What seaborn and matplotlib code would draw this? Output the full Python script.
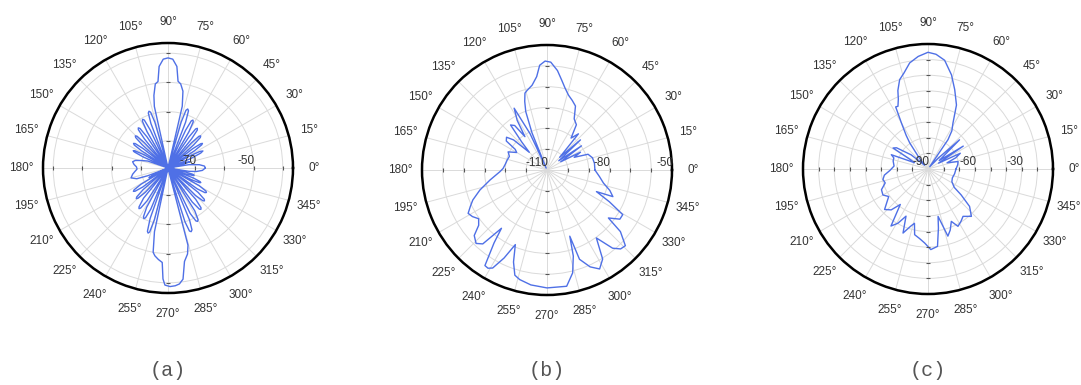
import numpy as np
import matplotlib
matplotlib.use("Agg")
import matplotlib.pyplot as plt
import seaborn as sns

# ---------------- data (angle in degrees, level in dB) ----------------
a_theta = [0, 3, 6, 9, 11, 13.5, 16, 18.5, 20.5, 22.5, 24.5, 26, 27.5, 29, 31,
           33, 34.5, 35.5, 36.5, 38, 40, 42, 43.3, 44.5, 45.7, 47, 49,
           51, 52.3, 53.5, 54.7, 56, 58, 60, 61.3, 62.5, 63.7, 65, 67,
           69, 70.3, 71.5, 72.7, 74, 75.5,
           77, 79, 81.4, 83.4, 85, 87.5, 90, 92.5, 95, 96.6, 98.6, 101, 102.5, 104.5,
           106, 107.3, 108.5, 109.7, 111, 113, 115, 116.3, 117.5, 118.7, 120, 122,
           124, 125.3, 126.5, 127.7, 129, 131, 133, 134.3, 135.5, 136.7, 138, 140,
           142, 143.3, 144.5, 145.7, 147, 149, 151, 152.5, 153.5, 154.5, 156, 158,
           161, 164, 167, 170, 174, 178, 182, 186, 190, 195, 199, 201, 203,
           205, 207, 209, 211, 212.8, 214, 215.2, 217, 219, 221, 222.8, 224, 225.2,
           227, 229, 231, 233.3, 234.5, 235.7, 237.5, 239.5, 241.5, 243.3, 244.5,
           245.7, 247.3, 249, 250.5, 252, 253, 254, 255.3, 256.5,
           258, 260, 261.5, 264, 266.5, 267.4, 268.5, 271, 273.5, 275.6, 277.7, 280,
           282.8, 284.5, 285.5,
           287.5, 288.8, 290, 291.2, 292.5, 294, 296, 297.8, 299, 300.2, 302, 303.5,
           305.5, 307.3, 308.5, 309.7, 311.5, 313, 315, 316.8, 318, 319.2, 321, 322.5,
           324.5, 326.3, 327.5, 328.7, 330.5, 332, 333.5, 335, 336, 337, 338.5, 340,
           341.5, 343.3, 344.5, 345.7, 347, 348.5, 351, 353, 356, 360]
a_db = [-66.5, -66.8, -68.5, -72.0, -79.0, -74.0, -71.5, -74.0, -79.0, -71.0, -67.0,
        -66.0, -67.0, -71.0, -79.0,
        -68.5, -65.3, -64.8, -65.3, -68.5, -79.0, -67.5, -64.1, -63.6, -64.1, -67.5, -79.0,
        -66.5, -62.9, -62.4, -62.9, -66.5, -79.0, -65.0, -61.3, -60.8, -61.3, -65.0, -79.0,
        -62.5, -58.5, -58.0, -58.6, -63.0, -79.0,
        -57.6, -52.5, -50.2, -49.4, -44.4, -42.0, -41.6, -42.0, -44.4, -49.5, -50.2, -54.0,
        -57.7, -79.0,
        -63.0, -59.3, -58.8, -59.3, -63.0, -79.0, -65.0, -61.0, -60.5, -61.0, -65.0, -79.0,
        -66.5, -62.7, -62.2, -62.7, -66.5, -79.0, -67.5, -64.1, -63.6, -64.1, -67.5, -79.0,
        -68.5, -65.3, -64.8, -65.3, -68.5, -79.0, -70.0, -66.5, -66.0, -66.5, -70.0, -79.0,
        -72.0, -70.0, -67.8, -67.0, -67.6, -68.5, -68.7, -67.9, -67.0, -66.2, -68.0, -72.0,
        -79.0,
        -74.0, -72.0, -79.0, -68.5, -65.5, -65.0, -65.5, -68.5, -79.0, -68.0, -64.7, -64.2,
        -64.7, -68.0, -79.0, -66.0, -62.7, -62.2, -62.7, -66.0, -79.0, -64.0, -60.6, -60.1,
        -60.6, -64.0, -79.0, -61.0, -56.5, -56.0, -56.5, -61.0, -79.0,
        -57.0, -50.0, -48.9, -47.8, -46.9, -41.3, -39.2, -38.7, -38.9, -39.4, -40.9, -46.8,
        -49.1, -52.0, -79.0,
        -60.0, -56.5, -56.1, -56.6, -60.0, -79.0, -62.0, -58.8, -58.4, -58.8, -62.0, -79.0,
        -65.0, -61.6, -61.2, -61.6, -65.0, -79.0, -66.0, -62.9, -62.5, -62.9, -66.0, -79.0,
        -67.0, -64.1, -63.7, -64.1, -67.0, -79.0, -70.0, -67.4, -67.0, -67.4, -70.0, -79.0,
        -73.0, -70.4, -70.0, -70.4, -73.0, -79.0, -72.0, -69.5, -67.5, -66.5]

b_theta = [0, 8, 15, 21, 25, 28, 31, 35, 38, 42, 45, 49, 53, 57, 62, 66, 70, 74, 77.6,
           80.7, 84, 88, 91, 94, 96.3, 100, 104, 106, 108, 110, 112, 113.5, 115, 118,
           121, 123.5, 126, 129, 132, 135, 138, 141, 144.5, 147, 150, 155, 160, 166,
           172, 178, 182, 190, 196.6, 202, 205.5, 208.8, 212, 215.5, 219, 222, 226, 229,
           232, 234, 237, 239, 241, 244, 247, 250, 253, 256, 262, 270, 279.6, 284, 287,
           289, 290, 294, 298, 302, 306, 310, 313, 316, 320, 322, 326, 329.5, 333,
           336.4, 338, 342, 347, 352.8, 360]
b_db = [-87.0, -87.0, -87.4, -88.9, -95.6, -91.8, -102.3, -89.8, -102.8, -88.4, -101.4,
        -87.0, -90.8, -84.1, -82.2, -76.4, -74.5, -72.6, -69.7, -66.3, -62.0, -58.2, -57.7,
        -59.6, -64.9, -68.7, -70.6, -71.6, -75.4, -80.2, -90.8, -109.0, -90.8, -76.4,
        -82.2, -90.8, -83.6, -82.2, -91.8, -98.0, -88.4, -85.0, -86.0, -91.8, -93.2, -89.4,
        -90.8, -90.3, -89.8, -88.9, -87.4, -82.2, -76.4, -71.6, -69.2, -66.8, -67.8, -69.7,
        -67.8, -63.0, -61.0, -63.0, -74.5, -66.8, -55.3, -55.0, -56.2, -63.0, -71.1, -63.0,
        -57.2, -55.8, -54.3, -53.4, -53.4, -59.1, -66.8, -76.4, -64.4, -59.1, -56.2, -59.6,
        -69.7, -61.0, -58.2, -57.7, -64.0, -72.6, -67.8, -67.8, -76.4, -84.1, -75.9, -78.3,
        -82.2, -84.6, -87.0]

c_theta = [0, 8, 14, 18, 22, 26, 29, 33, 37, 42.8, 47, 53, 55.7, 58, 61.5, 66, 71.4,
           76, 81.3, 86, 90, 95, 99.8, 104, 107.6, 111, 113, 115.6, 117.5, 120, 123,
           125, 128, 132, 140, 146, 149, 152, 155, 158.7, 162, 167, 175, 182, 188, 193,
           198, 204, 210, 215, 223, 228, 232, 237, 241, 245, 248.7, 253, 256, 258.5,
           263, 267.4, 272, 277, 280, 282, 286.5, 290, 294, 297.6, 302, 306.5, 312.5,
           318, 322, 325, 332, 340, 350, 360]
c_db = [-72.1, -70.8, -70.2, -77.2, -70.8, -67.0, -82.3, -63.1, -81.0, -62.5, -81.0,
        -88.1, -67.3, -61.2, -56.5, -45.2, -36.4, -27.9, -19.6, -16.4, -15.3, -17.7,
        -21.1, -26.6, -30.0, -36.2, -41.4, -45.5, -45.2, -56.0, -64.4, -69.6, -80.4,
        -86.8, -75.9, -65.7, -63.9, -77.2, -80.4, -64.8, -67.0, -67.1, -68.2, -65.7,
        -61.8, -60.4, -61.2, -57.4, -56.7, -59.3, -52.0, -54.8, -61.2, -46.5, -50.3,
        -56.7, -46.0, -51.6, -54.2, -47.1, -45.2, -42.6, -38.4, -40.1, -51.6, -59.0,
        -45.2, -48.4, -53.3, -48.6, -50.3, -52.3, -48.9, -54.2, -63.1, -69.5, -72.7,
        -73.4, -72.7, -72.1]

# axis scales / labels
a_rlim = (-79.3, -36.5)
a_rings = [-70, -60, -50, -40]
a_rlabels = [-70, -50]
b_rlim = (-110, -50)
b_rings = [-100, -90, -80, -70, -60]
b_rlabels = [-110, -80, -50]
c_rlim = (-90, -10)
c_rings = [-80, -70, -60, -50, -40, -30, -20]
c_rlabels = [-90, -60, -30]
angle_ticks = list(range(0, 360, 15))
panel_tags = ["(a)", "(b)", "(c)"]

# ---------------- style ----------------
sns.set_theme(style="white")
plt.rcParams["font.family"] = ["Liberation Sans", "DejaVu Sans"]
LINE = "#4f70e6"
GRID = "#dadada"
TXT = "#333333"

W, H = 1081, 385
R = 125
fig = plt.figure(figsize=(W / 100, H / 100), dpi=100)
fig.patch.set_facecolor("white")

panels = [
    (a_theta, a_db, a_rlim, a_rings, a_rlabels, (168, 168)),
    (b_theta, b_db, b_rlim, b_rings, b_rlabels, (547, 170)),
    (c_theta, c_db, c_rlim, c_rings, c_rlabels, (928, 169)),
]

for (theta, db, rlim, rings, rlabels, (cx, cy)), tag in zip(panels, panel_tags):
    ax = fig.add_axes([(cx - R) / W, (H - cy - R) / H, 2 * R / W, 2 * R / H],
                      projection="polar")
    ax.set_facecolor("white")
    sns.lineplot(x=np.deg2rad(theta), y=db, sort=False, estimator=None, ax=ax,
                 color=LINE, linewidth=1.0)
    ax.set_xlabel("")
    ax.set_ylabel("")
    ax.set_ylim(*rlim)
    ax.set_yticks(rings)
    ax.set_yticklabels([])
    ax.set_xticks(np.deg2rad(angle_ticks))
    ax.set_xticklabels([])
    ax.tick_params(axis="both", length=0, pad=0)
    ax.grid(True, color=GRID, linewidth=0.7)
    ax.set_axisbelow(True)
    ax.spines["polar"].set_color("black")
    ax.spines["polar"].set_linewidth(1.8)

    # small tick marks along the main axes at each ring
    for ang, mk in [(0, "|"), (180, "|"), (90, "_"), (270, "_")]:
        ax.plot(np.full(len(rings), np.deg2rad(ang)), rings, linestyle="none",
                marker=mk, markersize=2.5, color="#555555", markeredgewidth=0.8,
                clip_on=False)

    # angle labels
    for d in angle_ticks:
        t = np.deg2rad(d)
        ax.text(0.5 + 0.585 * np.cos(t), 0.5 + 0.585 * np.sin(t), f"{d}°",
                transform=ax.transAxes, ha="center", va="center",
                fontsize=8.5, color=TXT)

    # radial labels along 0°
    for v in rlabels:
        ax.annotate(f"{v}", xy=(0, v), xytext=(1, 1), textcoords="offset points",
                    ha="right", va="bottom", fontsize=8.5, color=TXT,
                    annotation_clip=False)

    fig.text(cx / W, 1 - 371 / H, tag, ha="center", va="center",
             fontsize=14.5, color="#555555", family=["Liberation Mono", "DejaVu Sans Mono"])

fig.savefig("out.png", dpi=100, facecolor="white")
